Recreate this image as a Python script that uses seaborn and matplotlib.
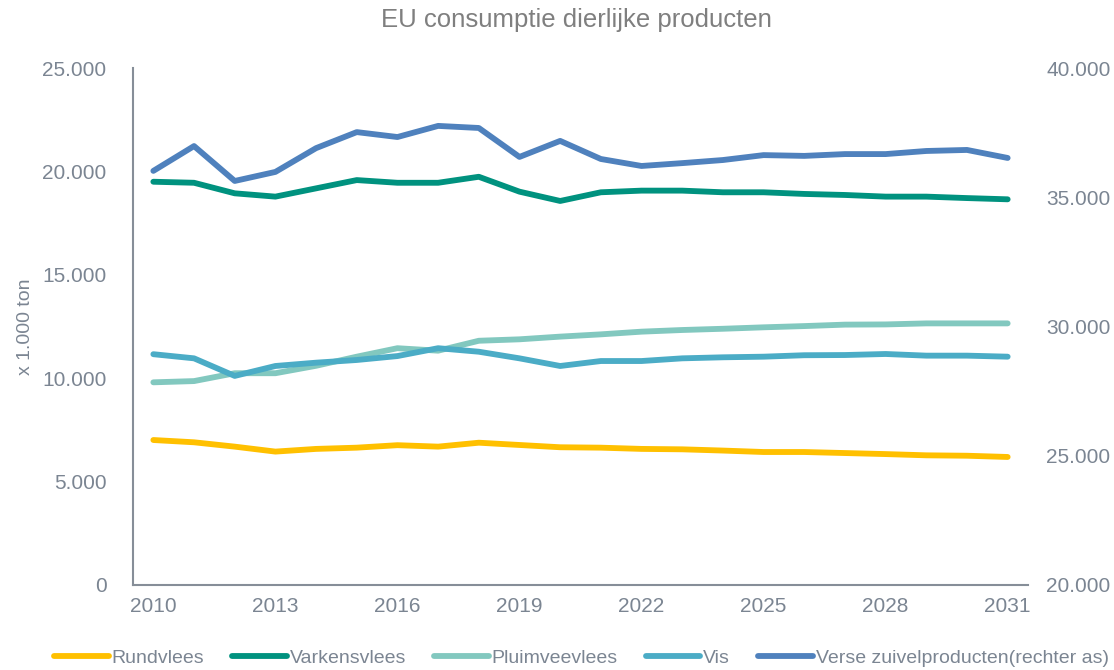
import matplotlib
matplotlib.use("Agg")
import matplotlib.pyplot as plt
import seaborn as sns
import pandas as pd
from matplotlib.ticker import FuncFormatter

years = list(range(2010, 2032))

# x 1.000 ton, left axis
rundvlees = [7010, 6900, 6690, 6450, 6580, 6640, 6760, 6690, 6880, 6770, 6660,
             6640, 6580, 6560, 6500, 6430, 6430, 6380, 6330, 6270, 6250, 6190]
varkensvlees = [19500, 19450, 18940, 18780, 19180, 19580, 19450, 19450, 19740, 19020, 18570,
                18990, 19070, 19070, 18990, 18990, 18910, 18860, 18780, 18780, 18710, 18650]
pluimveevlees = [9800, 9860, 10240, 10240, 10600, 11040, 11450, 11330, 11810, 11880, 12010,
                 12120, 12250, 12330, 12390, 12460, 12520, 12590, 12600, 12650, 12650, 12650]
vis = [11160, 10960, 10110, 10590, 10750, 10880, 11070, 11450, 11280, 10960, 10590,
       10830, 10830, 10960, 11010, 11040, 11110, 11120, 11170, 11090, 11090, 11040]
# right axis
zuivel = [36020, 36980, 35630, 35980, 36900, 37520, 37330, 37760, 37680, 36560, 37180,
          36480, 36210, 36320, 36440, 36630, 36600, 36670, 36670, 36790, 36830, 36520]

labels = ["Rundvlees", "Varkensvlees", "Pluimveevlees", "Vis",
          "Verse zuivelproducten(rechter as)"]
colors = ["#FFC000", "#00927F", "#82C8BF", "#4BACC6", "#4F81BD"]

sns.set_style("white")
plt.rcParams["font.family"] = ["Liberation Sans", "DejaVu Sans"]

gray = "#7B8592"

df = pd.DataFrame({"year": years, labels[0]: rundvlees, labels[1]: varkensvlees,
                   labels[2]: pluimveevlees, labels[3]: vis, labels[4]: zuivel})

fig = plt.figure(figsize=(11.14, 6.70), dpi=100)
ax = fig.add_axes([0.1194, 0.1269, 0.8034, 0.7716])
ax2 = ax.twinx()

lw = 4.2
for name, col in zip(labels[:4], colors[:4]):
    sns.lineplot(data=df, x="year", y=name, ax=ax, color=col, linewidth=lw,
                 label=name, legend=False, solid_capstyle="round")
sns.lineplot(data=df, x="year", y=labels[4], ax=ax2, color=colors[4], linewidth=lw,
             label=labels[4], legend=False, solid_capstyle="round")

ax.set_xlim(2009.5, 2031.5)
ax.set_ylim(0, 25000)
ax2.set_ylim(20000, 40000)
ax.set_xticks(years[::3])
ax.set_yticks(range(0, 25001, 5000))
ax2.set_yticks(range(20000, 40001, 5000))

fmt = FuncFormatter(lambda v, p: "0" if v == 0 else f"{int(v):,}".replace(",", "."))
ax.yaxis.set_major_formatter(fmt)
ax2.yaxis.set_major_formatter(fmt)

for a in (ax, ax2):
    for s in a.spines.values():
        s.set_visible(False)
    a.tick_params(axis="both", length=0, labelsize=15, labelcolor=gray)
    a.set_xlabel("")
ax.spines["left"].set_visible(True)
ax.spines["bottom"].set_visible(True)
ax.spines["left"].set_color("#868E98")
ax.spines["bottom"].set_color("#868E98")
ax.spines["left"].set_linewidth(1.5)
ax.spines["bottom"].set_linewidth(1.5)
ax.tick_params(axis="y", pad=19)
ax.tick_params(axis="x", pad=9)
ax2.tick_params(axis="y", pad=13)
ax2.set_ylabel("")
ax.set_ylabel("x 1.000 ton", fontsize=14, color=gray, labelpad=6)

fig.suptitle("EU consumptie dierlijke producten", x=0.517, y=0.988, fontsize=18.5,
             color="#7F7F7F")

h1, l1 = ax.get_legend_handles_labels()
h2, l2 = ax2.get_legend_handles_labels()
fig.legend(h1 + h2, l1 + l2, loc="lower center", bbox_to_anchor=(0.522, -0.022), ncol=5,
           frameon=False, fontsize=14, labelcolor=gray, handlelength=2.8,
           handletextpad=0.15, columnspacing=1.45)

fig.savefig("out.png", dpi=100)
